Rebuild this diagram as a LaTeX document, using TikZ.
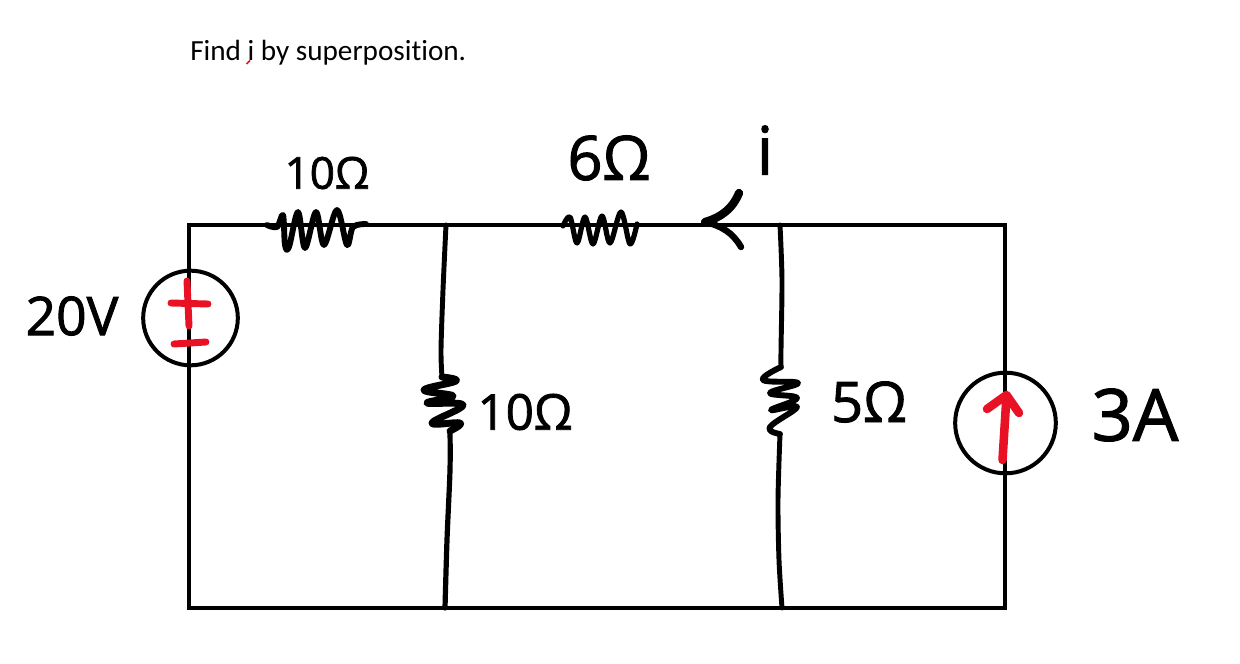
\documentclass[tikz,border=0pt]{standalone}
\usepackage{fontspec}
\setmainfont[RawFeature={-liga}]{Carlito}
\newfontfamily\handfont[FakeBold=1.6]{Open Sans}
\definecolor{inkred}{HTML}{E81224}
\tikzset{
  wire/.style={line width=2.7pt,line cap=round,line join=miter},
  ink/.style={line width=4.4pt,line cap=round,line join=round},
  redink/.style={line width=5.2pt,color=inkred,line cap=round,line join=round},
  source/.style={circle,draw,line width=3pt,minimum size=#1,inner sep=0pt,outer sep=0pt},
  hand/.style={inner sep=0pt,text=black}
}
\newcommand{\handsz}[1]{\handfont\fontsize{#1}{#1}\selectfont}
\begin{document}
\begin{tikzpicture}[x=0.75pt,y=-0.75pt]
\useasboundingbox (0,0) rectangle (1240,664);
% corners and junctions
\coordinate (tl) at (189,225);
\coordinate (tr) at (1005,225);
\coordinate (br) at (1005,608);
\coordinate (bl) at (189,608);
\coordinate (j1) at (446,225);
\coordinate (j2) at (780,225);
\coordinate (b1) at (445,608);
\coordinate (b2) at (782,608);
% frame
\draw[wire] (tl) -- (tr) -- (br) -- (bl) -- cycle;
% sources
\node[source=71pt] (vs) at (190.5,318) {};
\node[source=75.5pt] (cs) at (1005.5,423) {};
% top resistors
\draw[ink] plot[smooth,tension=0.55] coordinates {(267,225) (277,227) (283,215) (285,245) (289,247) (298,212) (305,248) (316,212) (324,245) (337,210) (347,245) (353,227) (366,224)};
\draw[ink,line width=3.9pt] plot[smooth,tension=0.55] coordinates {(563,226) (570,217) (577,243) (585,217) (593,244) (602,216) (610,243) (621,212) (630,244) (637,224)};
% arrow head for i
\coordinate (ahtip) at (705,222);
\draw[line width=6.2pt,line cap=round,line join=round] (ahtip) .. controls (722,217) and (733,208) .. (739,193);
\draw[ink,line width=4.8pt] (ahtip) .. controls (722,226) and (733,233) .. (741,247);
% vertical branches
\draw[ink,line width=3.7pt] plot[smooth,tension=0.5] coordinates {(j1) (443,290) (441,350) (442,377)};
\draw[ink,line width=5.2pt] plot[smooth,tension=0.7] coordinates {(442,377) (456,381) (424,390) (453,396) (427,403) (463,405) (432,423) (460,423) (450,431)};
\draw[ink,line width=3.9pt] plot[smooth,tension=0.5] coordinates {(450,431) (450,470) (447,540) (b1)};
\draw[ink,line width=3.7pt] plot[smooth,tension=0.5] coordinates {(j2) (782,280) (781,350) (781,367)};
\draw[ink] plot[smooth,tension=0.7] coordinates {(781,367) (763,380) (798,383) (770,393) (797,398) (771,410) (797,407) (770,427) (780,434)};
\draw[ink,line width=3.7pt] plot[smooth,tension=0.5] coordinates {(780,434) (778,500) (779,560) (b2)};
% red marks
\draw[redink] (187,281) -- (189,326);
\draw[redink] (171,303) -- (208,304);
\draw[redink] (174,344) -- (206,342);
\draw[redink,line width=6.4pt] (1002.5,460) -- (1006.5,396);
\draw[redink,line width=6.4pt] (987,409) -- (1006.5,395) -- (1019,413);
\draw[color=inkred,line width=1.2pt] (246.5,64) -- (250,60.5);
% texts
\node[anchor=base west,inner sep=0pt,font=\fontsize{21.9pt}{24pt}\selectfont] (title) at (190,60) {Find i by superposition.};
\node[hand,font=\handsz{40pt}] (l20) at (72,316) {20V};
\node[hand,font=\handsz{33pt}] (l10a) at (327,173) {10Ω};
\node[hand,font=\handsz{46pt}] (l6) at (609,158) {6Ω};
\node[hand,font=\handsz{50pt}] (li) at (765,150) {i};
\node[hand,font=\handsz{37pt}] (l10b) at (525,412) {10Ω};
\node[hand,font=\handsz{42pt}] (l5) at (869,402) {5Ω};
\node[hand,font=\handsz{54pt}] (l3) at (1135,415) {3A};
\end{tikzpicture}
\end{document}
